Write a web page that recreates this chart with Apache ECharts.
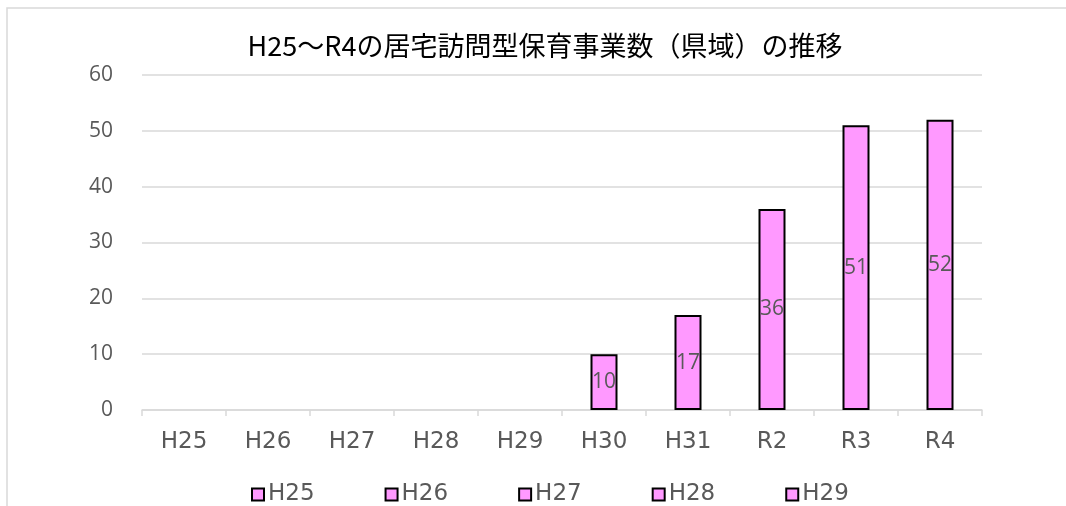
<!DOCTYPE html>
<html>
<head>
<meta charset="utf-8">
<script src="https://cdn.jsdelivr.net/npm/echarts@6/dist/echarts.min.js"></script>
<style>
  html, body { margin: 0; padding: 0; background: #fff; }
  #chart { width: 1066px; height: 506px; }
</style>
</head>
<body>
<div id="chart"></div>
<script>
  // 年度
  var categories = ['H25', 'H26', 'H27', 'H28', 'H29', 'H30', 'H31', 'R2', 'R3', 'R4'];
  // 事業数
  var counts = [0, 0, 0, 0, 0, 10, 17, 36, 51, 52];
  // 凡例 (元のグラフのまま)
  var legendNames = ['H25', 'H26', 'H27', 'H28', 'H29'];
  var yTicks = { min: 0, max: 60, interval: 10 };

  var pink = '#ff99ff';
  var grey = '#595959';
  var barStyle = { color: pink, borderColor: '#000', borderWidth: 2 };

  var series = [{
    name: '事業数',
    type: 'bar',
    stack: 'all',
    barWidth: 27,
    data: counts.map(function (v) { return v === 0 ? null : v; }),
    itemStyle: barStyle,
    label: {
      show: true,
      position: 'inside',
      color: grey,
      fontSize: 21,
      fontFamily: 'Open Sans'
    }
  }];
  legendNames.forEach(function (n) {
    series.push({
      name: n,
      type: 'bar',
      stack: 'all',
      barWidth: 27,
      data: [],
      itemStyle: barStyle
    });
  });

  var myChart = echarts.init(document.getElementById('chart'));
  myChart.setOption({
    backgroundColor: '#fff',
    animation: false,
    graphic: [{
      type: 'rect',
      shape: { x: 7, y: 8, width: 1100, height: 600 },
      style: { fill: 'none', stroke: '#d9d9d9', lineWidth: 1.5 },
      silent: true
    }],
    title: {
      text: 'H25〜R4の居宅訪問型保育事業数（県域）の推移',
      left: 540,
      textAlign: 'center',
      top: 27,
      textStyle: {
        fontFamily: 'Noto Sans CJK JP',
        fontSize: 27,
        fontWeight: 'normal',
        color: '#000'
      }
    },
    legend: {
      data: legendNames,
      left: 246,
      top: 478,
      itemWidth: 12,
      itemHeight: 12,
      itemGap: 70,
      icon: 'rect',
      textStyle: { color: grey, fontSize: 23, fontFamily: 'DejaVu Sans', padding: [0, 0, 0, -1] }
    },
    grid: { left: 142, right: 84, top: 75, bottom: 96 },
    xAxis: {
      type: 'category',
      data: categories,
      axisLine: { lineStyle: { color: '#d9d9d9', width: 1.5 } },
      axisTick: { show: true, length: 6, lineStyle: { color: '#d9d9d9', width: 1.5 } },
      axisLabel: { color: grey, fontSize: 23, fontFamily: 'DejaVu Sans', margin: 21 }
    },
    yAxis: {
      type: 'value',
      min: yTicks.min,
      max: yTicks.max,
      interval: yTicks.interval,
      axisLine: { show: false },
      axisTick: { show: false },
      splitLine: { lineStyle: { color: '#d9d9d9', width: 1.5 } },
      axisLabel: { color: grey, fontSize: 21, fontFamily: 'Open Sans', margin: 29 }
    },
    series: series
  });
</script>
</body>
</html>
